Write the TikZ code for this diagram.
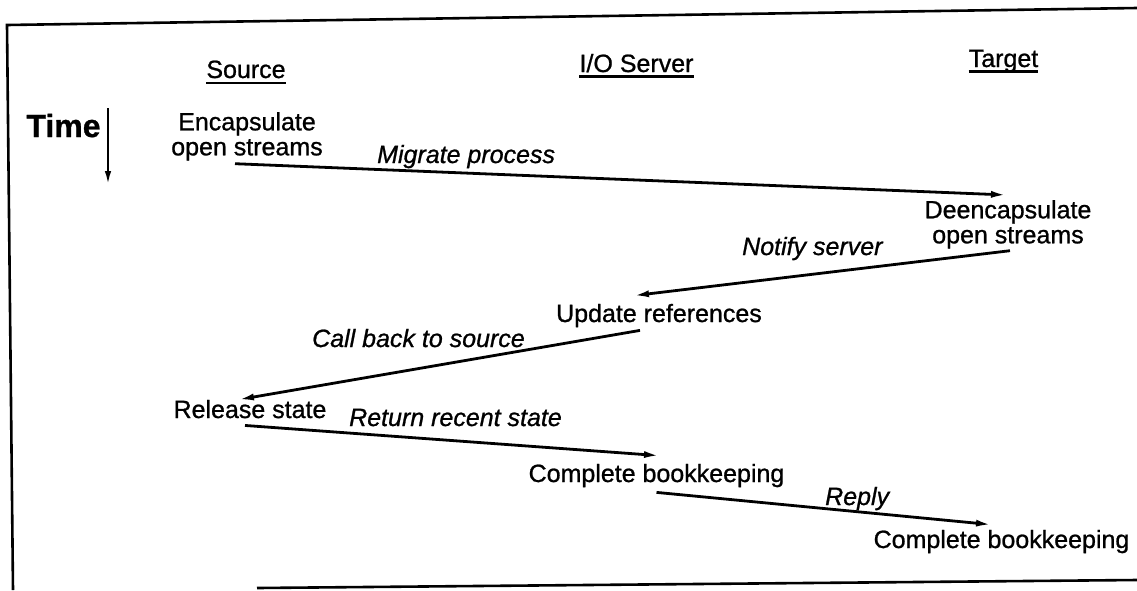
\documentclass[tikz,border=0pt]{standalone}
\usepackage{fontspec}
\setmainfont{Liberation Sans}[FakeBold=0.9]
\usetikzlibrary{arrows.meta}
\begin{document}
\begin{tikzpicture}[x=1pt,y=-1pt,
  txt/.style={inner sep=0pt, font=\fontsize{25}{25}\selectfont},
  lbl/.style={inner sep=0pt, font=\fontsize{25}{25}\selectfont\itshape},
  twoline/.style={txt, align=center, anchor=north},
  flow/.style={line width=2.8pt, -{Latex[length=16pt,width=7pt]}},
  timearrow/.style={line width=2pt, -{Latex[length=13pt,width=6.5pt]}},
  frame/.style={line width=2.6pt},
  uline/.style={line width=2.8pt}]
\useasboundingbox (0,0) rectangle (1137,590);

% frame
\draw[frame] (1137,8) -- (7,25) -- (13,590);
\draw[frame] (257,588) -- (1137,580);

% column headers
\node[txt, anchor=base] (src) at (246,78) {Source};
\node[txt, anchor=base] (ios) at (636.5,72) {I/O Server};
\node[txt, anchor=base] (tgt) at (1003.5,67) {Target};
\draw[uline] ([yshift=-5pt]src.base west) -- ([yshift=-5pt]src.base east);
\draw[uline] ([yshift=-4.5pt]ios.base west) -- ([yshift=-4.5pt]ios.base east);
\draw[uline] ([yshift=-4.5pt]tgt.base west) -- ([yshift=-4.5pt]tgt.base east);

% time axis
\node[inner sep=0pt, anchor=base, font=\fontsize{32}{32}\selectfont\bfseries] (time) at (63.5,137) {Time};
\coordinate (t0) at (108,108);
\coordinate (t1) at (108,184);
\draw[timearrow] (t0) -- (t1);

% events
\node[twoline] (enc) at (247,112) {Encapsulate\\open streams};
\node[twoline] (deenc) at (1008,200) {Deencapsulate\\open streams};
\node[txt, anchor=base] (upd) at (659,322) {Update references};
\node[txt, anchor=base] (rel) at (250,418) {Release state};
\node[txt, anchor=base] (cbk1) at (656.5,482) {Complete bookkeeping};
\node[txt, anchor=base] (cbk2) at (1001.5,548) {Complete bookkeeping};

% messages
\draw[flow] ([shift={(-12,3)}]enc.south) -- ([shift={(-1,-5)}]deenc.north);
\draw[flow] ([shift={(2,2)}]deenc.south) -- ([shift={(-26,-8)}]upd.north);
\draw[flow] ([shift={(-19,3)}]upd.south) -- ([shift={(-12,0)}]rel.north);
\draw[flow] ([shift={(-5,7)}]rel.south) -- ([shift={(3.5,-8)}]cbk1.north);
\draw[flow] ([shift={(0,5)}]cbk1.south) -- ([shift={(-9.5,-5)}]cbk2.north);

% message labels
\node[lbl, anchor=base west] (lmig) at (377,163) {Migrate process};
\node[lbl, anchor=base west] (lnot) at (742,255) {Notify server};
\node[lbl, anchor=base west] (lcall) at (312,347) {Call back to source};
\node[lbl, anchor=base west] (lret) at (349,426) {Return recent state};
\node[lbl, anchor=base west] (lrep) at (825,505) {Reply};
\end{tikzpicture}
\end{document}
